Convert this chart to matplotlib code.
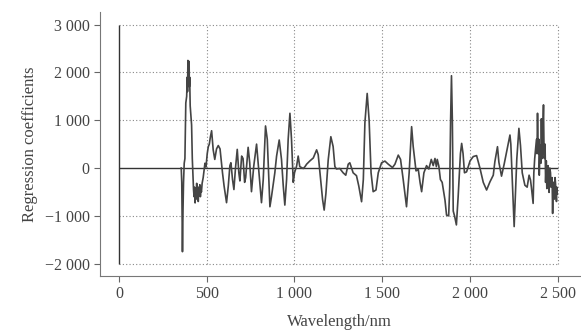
import numpy as np
import matplotlib.pyplot as plt

# regression coefficients
wavelength = [355, 358, 362, 365, 368, 372, 376, 381, 386, 389, 391, 393, 395, 396, 398, 400, 401, 403, 406,
              414, 418, 422, 425, 428, 431, 434, 437, 440, 443, 446, 449, 452, 455, 458, 461, 464, 467,
              470, 474, 480, 490, 496,
              503, 509, 515, 521, 528, 537, 546, 556, 566, 576, 590, 599, 613, 623, 632, 638,
              647, 655, 664, 674, 683, 689, 699, 707, 716, 722, 736, 745, 755, 768, 784, 798,
              812, 822, 835, 845, 854, 860, 869, 888, 898, 913, 926, 936, 945, 955, 964, 974,
              983, 993, 1000, 1012, 1021, 1030, 1050, 1060, 1069, 1088, 1107, 1126, 1135, 1149, 1160, 1169,
              1179, 1192, 1207, 1220, 1230, 1239, 1258, 1277, 1292, 1306, 1315, 1334, 1353, 1366, 1382, 1392,
              1401, 1414, 1425, 1436, 1448, 1464, 1477, 1496, 1515, 1534, 1558, 1572, 1591, 1604, 1619, 1638,
              1653, 1667, 1676, 1692, 1705, 1715, 1724, 1737, 1752, 1765, 1779, 1790, 1800, 1808, 1813, 1822,
              1831, 1841, 1857, 1866, 1878, 1884, 1889, 1894, 1899, 1904, 1912, 1922, 1932, 1945, 1952, 1960,
              1968, 1980,
              2000, 2018, 2037, 2056, 2075, 2094, 2113, 2132, 2141, 2156, 2164, 2179, 2194, 2208, 2217, 2227,
              2232, 2240, 2251, 2258, 2266, 2278, 2287, 2297, 2312, 2325, 2336, 2344, 2349, 2359, 2363, 2368,
              2373, 2378, 2381, 2384, 2387, 2389, 2392, 2394, 2397, 2400, 2403, 2406, 2409, 2412, 2415, 2418,
              2421, 2424, 2427, 2430, 2434, 2437, 2440, 2444, 2447, 2450, 2454, 2458, 2461, 2464, 2467,
              2470, 2473, 2475, 2478, 2480, 2484, 2487, 2490, 2492, 2494, 2496]
coef = [0, -300, -1750, -900, -300, 100, 200, 1360, 1500, 1900, 1600, 2250, 1900, 2100, 1800, 2230, 1700, 1900, 1300,
        900, 200, -200, -450, -600, -400, -730, -500, -650, -320, -600, -450, -700, -400, -550, -350, -600, -450,
        -500, -320, -200, 100, 20,
        300, 445, 500, 650, 780, 380, 180, 400, 470, 400, -100, -375, -725, -375, 50, 110,
        -240, -450, 0, 390, -100, -270, 250, 200, -300, -200, 433, 110, -495, 40, 500, -100,
        -725, -240, 880, 600, -240, -810, -600, -100, 250, 586, 180, -375, -775, -240, 600, 1145,
        600, -300, -100, 40, 250, 30, -10, 30, 80, 150, 210, 380, 280, -240, -660, -880,
        -530, 170, 655, 450, 30, -20, -10, -100, -150, 80, 110, -100, -160, -375, -705, -240,
        950, 1560, 1000, -100, -495, -460, -100, 110, 145, 80, 10, 80, 270, 180, -240, -810,
        -100, 865, 450, -60, -30, -300, -495, -100, 50, -20, 180, 50, 200, 30, 180, 40,
        -240, -300, -670, -985, -1000, -400, 1000, 1930, 1000, -900, -1010, -1190, -600, 300, 515, 300,
        -100, -80,
        150, 240, 260, 0, -300, -460, -290, -150, 130, 446, 120, -170, 80, 340, 500, 690,
        500, -250, -1225, -580, 190, 830, 470, -100, -360, -400, -150, -250, -400, -740, -100, 200,
        400, 600, 300, 1145, 500, 300, 600, -150, 300, 480, 100, 1030, 300, 200, 900, 1320,
        400, 200, 500, -300, 150, -430, 0, 50, -300, -510, 0, -100, -400, -300, -200,
        -950, -300, -500, -300, -650, -200, -350, -600, -700, -400, -540]

xticks = [0, 500, 1000, 1500, 2000, 2500]
xtick_labels = ['0', '500', '1 000', '1 500', '2 000', '2 500']
yticks = [-2000, -1000, 0, 1000, 2000, 3000]
ytick_labels = ['\u22122 000', '\u22121 000', '0', '1 000', '2 000', '3 000']

plt.rcParams['font.family'] = ['Liberation Serif', 'DejaVu Serif']

fig = plt.figure(figsize=(5.81, 3.33), dpi=100)
ax = fig.add_axes([0.172, 0.171, 0.826, 0.793])

# dotted grid only inside the data box
gc = '#888888'
for y in yticks:
    if y != 0:
        ax.hlines(y, 0, 2500, colors=gc, linestyles=(0, (1, 2)), linewidth=0.8)
for x in xticks[1:]:
    ax.vlines(x, -2000, 3000, colors=gc, linestyles=(0, (1, 2)), linewidth=0.8)

ax.vlines(0, -2000, 3000, colors='#333333', linewidth=1.0)
ax.hlines(0, 0, 2500, colors='#333333', linewidth=1.0)
ax.plot(wavelength, coef, color='#444444', linewidth=1.2)

ax.set_xlim(-108, 2625)
ax.set_ylim(-2260, 3264)
ax.set_xticks(xticks)
ax.set_xticklabels(xtick_labels)
ax.set_yticks(yticks)
ax.set_yticklabels(ytick_labels)
ax.tick_params(direction='out', length=4, color='#666666', labelsize=11.5, labelcolor='#444444')
for s in ['top', 'right']:
    ax.spines[s].set_visible(False)
for s in ['left', 'bottom']:
    ax.spines[s].set_color('#777777')
ax.set_xlabel('Wavelength/nm', fontsize=12, color='#444444', labelpad=8)
ax.set_ylabel('Regression coefficients', fontsize=12, color='#444444', labelpad=5)

fig.savefig('out.png')
